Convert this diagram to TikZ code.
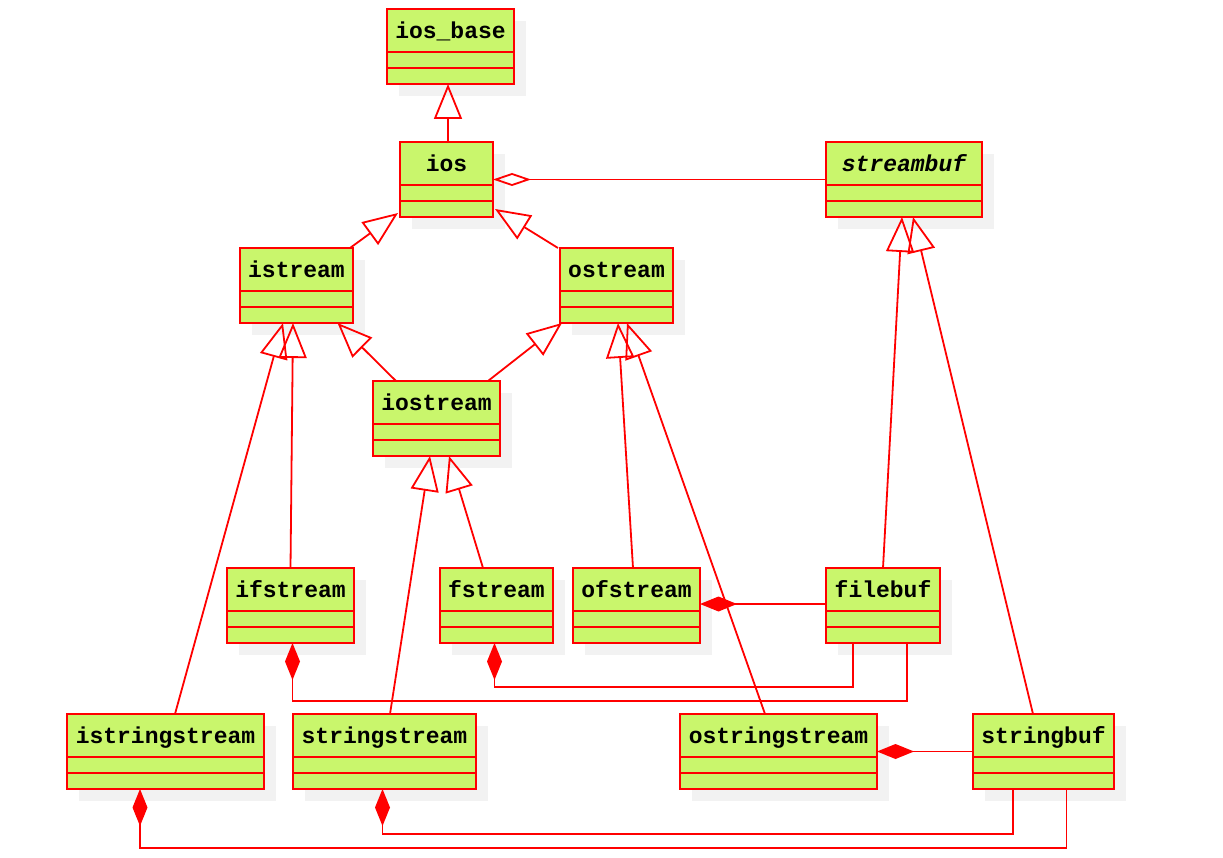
\documentclass[tikz,border=0pt]{standalone}
\usepackage{fontspec}
\setmonofont{Liberation Mono}
\usetikzlibrary{arrows.meta,calc}
\definecolor{clsfill}{RGB}{201,246,108}
\definecolor{shadowc}{RGB}{242,242,242}
\tikzset{
  cls/.style={draw=red, line width=1.9pt, fill=clsfill, inner sep=0pt,
    minimum height=75pt, anchor=north west, outer sep=0pt},
  clsline/.style={draw=red, line width=1.9pt},
  lbl/.style={font=\ttfamily\bfseries\fontsize{23}{23}\selectfont, anchor=base, inner sep=0pt},
  conn/.style={draw=red, line width=1.8pt, line join=miter},
  gen/.style={conn, -{Triangle[open, length=35pt, width=28pt]}},
  aggr/.style={conn, {Diamond[open, length=38pt, width=13pt]}-},
  comp/.style={conn, -{Diamond[length=37pt, width=15pt]}},
}
\newcommand\umlcls[5]{%
  \fill[shadowc] (#2+12,#3+12) rectangle ++(#4,75);
  \node[cls, minimum width=#4pt] (#1) at (#2,#3) {};
  \draw[clsline] ([yshift=-43pt]#1.north west) -- ([yshift=-43pt]#1.north east);
  \draw[clsline] ([yshift=-59pt]#1.north west) -- ([yshift=-59pt]#1.north east);
  \node[lbl] (#1-t) at ([yshift=-29.5pt]#1.north) {#5};
}
\begin{document}
\begin{tikzpicture}[x=1pt, y=-1pt]
\useasboundingbox (0,0) rectangle (1223,858);
\umlcls{iosbase}{387}{9}{127}{ios\_base}
\umlcls{ios}{400}{142}{93}{ios}
\umlcls{streambuf}{826}{142}{156}{\itshape streambuf}
\umlcls{istream}{240}{248}{113}{istream}
\umlcls{ostream}{560}{248}{113}{ostream}
\umlcls{iostream}{373}{381}{127}{iostream}
\umlcls{ifstream}{227}{568}{127}{ifstream}
\umlcls{fstream}{440}{568}{113}{fstream}
\umlcls{ofstream}{573}{568}{127}{ofstream}
\umlcls{filebuf}{826}{568}{114}{filebuf}
\umlcls{istringstream}{67}{714}{197}{istringstream}
\umlcls{stringstream}{293}{714}{183}{stringstream}
\umlcls{ostringstream}{680}{714}{197}{ostringstream}
\umlcls{stringbuf}{973}{714}{141}{stringbuf}

% generalizations
\draw[gen] ([xshift=1.5pt]ios.north) -- ([xshift=1.5pt]ios.north |- iosbase.south);
\draw[gen] ([xshift=-3pt]istream.north east) -- ([xshift=-2pt,yshift=4pt]ios.south west);
\draw[gen] ([xshift=-2pt]ostream.north west) -- ([xshift=2pt,yshift=8pt]ios.south east);
\draw[gen] ([xshift=23pt]iostream.north west) -- ([xshift=41pt]istream.south);
\draw[gen] ([xshift=-12pt]iostream.north east) -- ([xshift=2pt]ostream.south west);
\draw[gen] (ifstream.north) -- ([xshift=-3.5pt]istream.south);
\draw[gen] ([xshift=9.5pt]istringstream.north) -- ([xshift=-13.5pt]istream.south);
\draw[gen] ([xshift=-13.5pt]fstream.north) -- ([xshift=12.5pt]iostream.south);
\draw[gen] ([xshift=5.5pt]stringstream.north) -- ([xshift=-6.5pt]iostream.south);
\draw[gen] ([xshift=-3.5pt]ofstream.north) -- ([xshift=1.5pt]ostream.south);
\draw[gen] ([xshift=-13.5pt]ostringstream.north) -- ([xshift=10.5pt]ostream.south);
\draw[gen] (filebuf.north) -- ([xshift=-2pt]streambuf.south);
\draw[gen] ([xshift=-10.5pt]stringbuf.north) -- ([xshift=9pt]streambuf.south);

% aggregation
\draw[aggr] (ios.east) -- (streambuf.west);

% compositions
\draw[comp] ([yshift=1.5pt]filebuf.west) -- ([yshift=1.5pt]ofstream.east);
\draw[comp] (stringbuf.west) -- (ostringstream.east);
\draw[comp] ([xshift=24pt]filebuf.south) -- ++(0,58) -| ([xshift=2pt]ifstream.south);
\draw[comp] ([xshift=-30pt]filebuf.south) -- ++(0,44) -| ([xshift=-2pt]fstream.south);
\draw[comp] ([xshift=-30.5pt]stringbuf.south) -- ++(0,45) -| ([xshift=-2pt]stringstream.south);
\draw[comp] ([xshift=23pt]stringbuf.south) -- ++(0,59) -| ([xshift=-25.5pt]istringstream.south);
\end{tikzpicture}
\end{document}
